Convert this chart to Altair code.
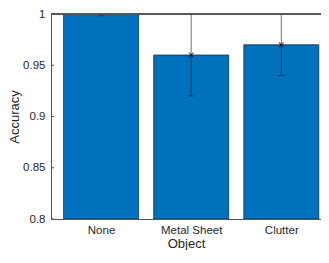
import json
import altair as alt
import pandas as pd

categories = ["None", "Metal Sheet", "Clutter"]
positions = [1, 2, 3]
accuracy = [1.0, 0.96, 0.97]
errors = [0.0, 0.04, 0.03]
y_ticks = [0.8, 0.85, 0.9, 0.95, 1.0]

df = pd.DataFrame({
    "pos": positions,
    "cat": categories,
    "acc": accuracy,
    "lo": [a - e for a, e in zip(accuracy, errors)],
    "hi": [a + e for a, e in zip(accuracy, errors)],
})
ticks_df = pd.DataFrame({"v": y_ticks})

W, H = 270, 205
FONT = "Liberation Sans"
AX = "#262626"

label_expr = "%s[datum.value - 1]" % json.dumps(categories)

xs = alt.Scale(domain=[0.5, 3.385], nice=False, zero=False)
ys = alt.Scale(domain=[0.8, 1.0], nice=False, zero=False)

x_axis = alt.Axis(values=positions, labelExpr=label_expr, ticks=False, grid=False,
                  labelPadding=5, labelFontSize=11.5, labelFont=FONT, labelColor=AX,
                  domainColor="#555555", domainWidth=1,
                  title="Object", titleFont=FONT, titleFontSize=13, titleFontWeight="normal",
                  titleColor=AX, titleBaseline="alphabetic", titleY=28)
y_axis = alt.Axis(values=y_ticks, format="~g", ticks=False, grid=False,
                  labelPadding=6, labelFontSize=11.5, labelFont=FONT, labelColor=AX,
                  domainColor="#555555", domainWidth=1,
                  title="Accuracy", titleFont=FONT, titleFontSize=13, titleFontWeight="normal",
                  titleColor=AX, titleAngle=-90, titleBaseline="middle", titleAlign="center",
                  titleX=-37, titleY=H / 2)

base = alt.Chart(df)

bars = base.mark_bar(size=75, color="#0072BD", stroke="#0b2236", strokeWidth=0.7, clip=True).encode(
    x=alt.X("pos:Q", scale=xs, axis=x_axis),
    y=alt.Y("acc:Q", scale=ys, axis=y_axis),
    y2=alt.datum(0.8),
)

err = base.mark_rule(color="#000000", strokeWidth=0.8, opacity=0.7, clip=True).encode(
    x="pos:Q", y="lo:Q", y2="hi:Q"
)
cap_lo = base.mark_tick(orient="horizontal", size=6, thickness=0.8, color="#000000",
                        opacity=0.7, clip=True).encode(x="pos:Q", y="lo:Q")
cap_hi = base.mark_tick(orient="horizontal", size=6, thickness=0.8, color="#000000",
                        opacity=0.7, clip=True).encode(x="pos:Q", y="hi:Q")
marks = base.mark_point(shape="M-1,-1L1,1M-1,1L1,-1", size=22, filled=False,
                        color="#000000", strokeWidth=1.1, clip=True).encode(x="pos:Q", y="acc:Q")

yticks = alt.Chart(ticks_df).mark_rule(color="#555555", strokeWidth=1).encode(
    y=alt.Y("v:Q", scale=ys), x=alt.value(0), x2=alt.value(3)
)
top = alt.Chart(ticks_df).mark_rule(color="#555555", strokeWidth=1).encode(
    y=alt.datum(1.0), x=alt.value(0), x2=alt.value(W)
)

chart = alt.layer(bars, err, cap_lo, cap_hi, marks, yticks, top).properties(
    width=W, height=H,
    padding={"left": 43, "top": 6, "right": 0, "bottom": 31},
    autosize=alt.AutoSizeParams(type="none"),
).configure_view(stroke=None)

chart.save("out.html", embed_options={"renderer": "svg", "actions": False})
